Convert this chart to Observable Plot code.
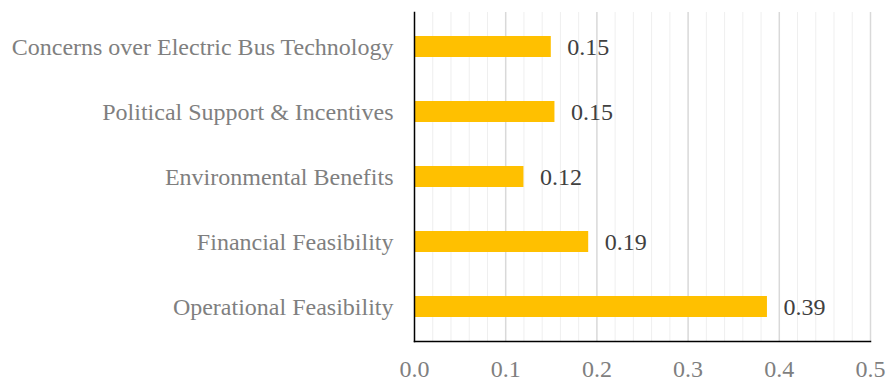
<!DOCTYPE html>
<html>
<head>
<meta charset="utf-8">
<script src="https://cdn.jsdelivr.net/npm/d3@7"></script>
<script src="https://cdn.jsdelivr.net/npm/@observablehq/plot@0.6"></script>
<style>
  html, body { margin: 0; padding: 0; background: #fff; }
  svg text { font-family: 'Liberation Serif', 'Times New Roman', serif; }
</style>
</head>
<body>
<div id="chart"></div>
<script>
const categories = [
  "Concerns over Electric Bus Technology",
  "Political Support & Incentives",
  "Environmental Benefits",
  "Financial Feasibility",
  "Operational Feasibility"
];
const values = [0.150, 0.154, 0.120, 0.191, 0.387];
const valueLabels = ["0.15", "0.15", "0.12", "0.19", "0.39"];
const majorTicks = [0, 0.1, 0.2, 0.3, 0.4, 0.5];
const minorTicks = [0.02, 0.04, 0.06, 0.08, 0.12, 0.14, 0.16, 0.18, 0.22, 0.24, 0.26, 0.28,
                    0.32, 0.34, 0.36, 0.38, 0.42, 0.44, 0.46, 0.48];

const data = categories.map((c, i) => ({cat: c, value: values[i], label: valueLabels[i]}));

const chart = Plot.plot({
  width: 888,
  height: 380,
  marginLeft: 414,
  marginRight: 18,
  marginTop: 12,
  marginBottom: 39,
  style: {fontFamily: "'Liberation Serif', 'Times New Roman', serif", fontSize: "24px", background: "#fff", overflow: "visible"},
  x: {domain: [0, 0.5]},
  y: {domain: categories, paddingInner: 0.67, paddingOuter: 0.335},
  marks: [
    Plot.ruleX(minorTicks, {stroke: "#efefef", strokeWidth: 1}),
    Plot.ruleX(majorTicks.slice(1), {stroke: "#d9d9d9", strokeWidth: 1.5}),
    Plot.barX(data, {x: "value", y: "cat", fill: "#ffc000"}),
    Plot.text(data, {x: "value", y: "cat", text: "label", dx: 16, textAnchor: "start", fill: "#404040", fontSize: 24}),
    Plot.axisX({ticks: majorTicks, tickFormat: d3.format(".1f"), tickSize: 0, tickPadding: 18, fill: "#7f7f7f", fontSize: 24, label: null}),
    Plot.axisY({tickSize: 0, tickPadding: 21, fill: "#7f7f7f", fontSize: 24, label: null}),
    Plot.frame({anchor: "left", stroke: "#000", strokeWidth: 1.5}),
    Plot.frame({anchor: "bottom", stroke: "#000", strokeWidth: 1.5})
  ]
});
document.getElementById("chart").appendChild(chart);
</script>
</body>
</html>
